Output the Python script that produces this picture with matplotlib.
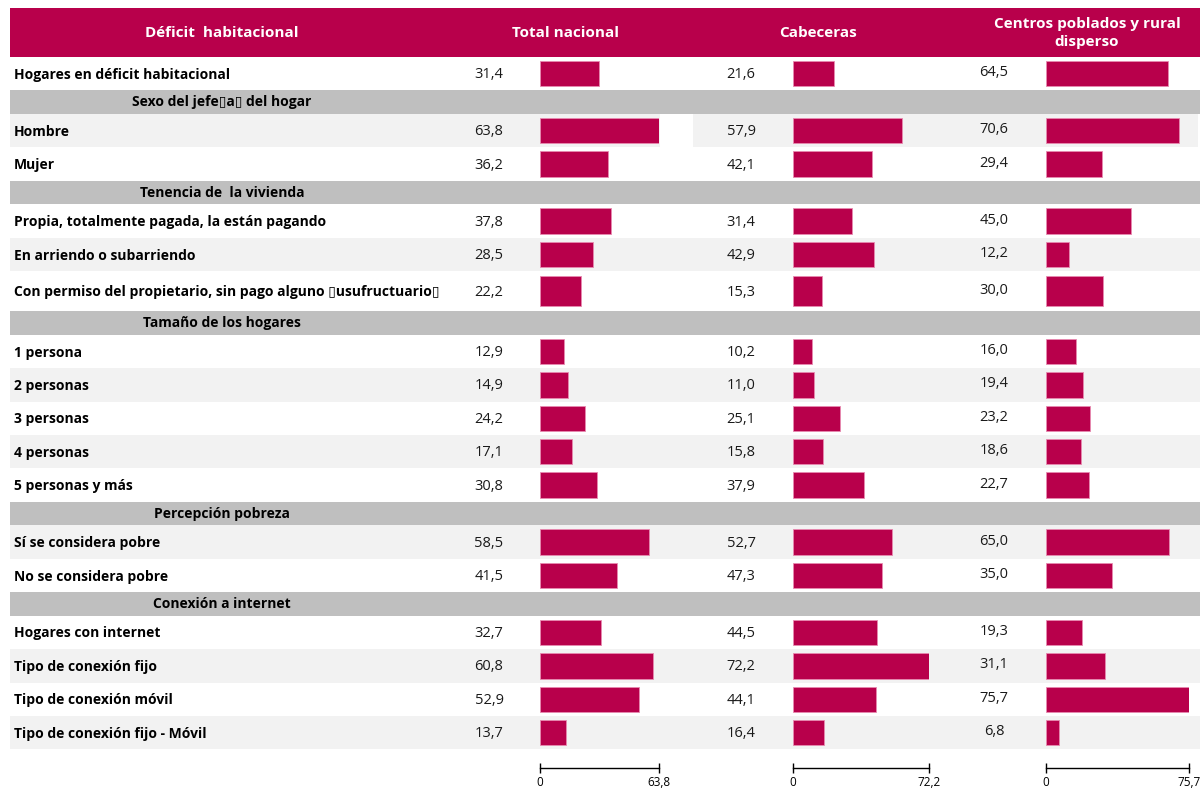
import numpy as np
import matplotlib
matplotlib.use("Agg")
import matplotlib.pyplot as plt

plt.rcParams['font.family'] = ['Open Sans', 'DejaVu Sans']

# ---------------- data ----------------
B = "\u25af"
row_labels = [
    "Hogares en déficit habitacional",
    f"Sexo del jefe{B}a{B} del hogar",
    "Hombre",
    "Mujer",
    "Tenencia de  la vivienda",
    "Propia, totalmente pagada, la están pagando",
    "En arriendo o subarriendo",
    f"Con permiso del propietario, sin pago alguno {B}usufructuario{B}",
    "Tamaño de los hogares",
    "1 persona",
    "2 personas",
    "3 personas",
    "4 personas",
    "5 personas y más",
    "Percepción pobreza",
    "Sí se considera pobre",
    "No se considera pobre",
    "Conexión a internet",
    "Hogares con internet",
    "Tipo de conexión fijo",
    "Tipo de conexión móvil",
    "Tipo de conexión fijo - Móvil",
]
is_section = [False, True, False, False, True, False, False, False, True,
              False, False, False, False, False, True, False, False, True,
              False, False, False, False]
nan = np.nan
total_nacional = [31.4, nan, 63.8, 36.2, nan, 37.8, 28.5, 22.2, nan, 12.9, 14.9,
                  24.2, 17.1, 30.8, nan, 58.5, 41.5, nan, 32.7, 60.8, 52.9, 13.7]
cabeceras = [21.6, nan, 57.9, 42.1, nan, 31.4, 42.9, 15.3, nan, 10.2, 11.0,
             25.1, 15.8, 37.9, nan, 52.7, 47.3, nan, 44.5, 72.2, 44.1, 16.4]
centros = [64.5, nan, 70.6, 29.4, nan, 45.0, 12.2, 30.0, nan, 16.0, 19.4,
           23.2, 18.6, 22.7, nan, 65.0, 35.0, nan, 19.3, 31.1, 75.7, 6.8]
column_titles = ["Déficit  habitacional", "Total nacional", "Cabeceras",
                 "Centros poblados y rural\ndisperso"]
shaded = [False, False, True, False, False, False, True, False, False,
          False, True, False, True, False, False, True, False, False,
          False, True, False, True]

# ---------------- layout ----------------
W, H = 1202, 789
CRIMSON = "#B8004B"
STRIPE = "#F2F2F2"
SECTION = "#BFBFBF"

fig = plt.figure(figsize=(W / 100, H / 100), dpi=100)
ax0 = fig.add_axes([0, 0, 1, 1])
ax0.set_xlim(0, W)
ax0.set_ylim(H, 0)
ax0.axis('off')

heights = []
for i, s in enumerate(is_section):
    if s:
        heights.append(23.6)
    elif i == 7:
        heights.append(40.0)
    else:
        heights.append(33.4)
tops = 57 + np.concatenate([[0], np.cumsum(heights)[:-1]])
centers = tops + np.array(heights) / 2

# header band
ax0.barh(32.5, 1190, left=10, height=49, color=CRIMSON)
hdr_x = [222, 565, 818, 1087]
for t, x in zip(column_titles, hdr_x):
    ax0.text(x, 33, t, ha='center', va='center', color='white',
             fontsize=11, fontweight='bold', linespacing=1.3)

for i, (lab, s) in enumerate(zip(row_labels, is_section)):
    c, h = centers[i], heights[i]
    if s:
        ax0.barh(c, 1190, left=10, height=h, color=SECTION)
        ax0.text(222, c, lab, ha='center', va='center', fontsize=10,
                 fontweight='bold', color='black')
    else:
        if shaded[i]:
            if i == 2:
                ax0.barh(c, 650, left=10, height=h, color=STRIPE)
                ax0.barh(c, 505, left=693, height=h, color=STRIPE)
            else:
                ax0.barh(c, 1190, left=10, height=h, color=STRIPE)
        ax0.text(14, c + 1, lab, ha='left', va='center', fontsize=10,
                 fontweight='bold', color='black')

# bar columns
cols = [
    (total_nacional, 540, 119, 489, 0),
    (cabeceras, 793, 136, 741, 0),
    (centros, 1046, 143, 994, -2),
]
for vals, x0, wpx, vx, dy in cols:
    vals = np.array(vals, dtype=float)
    vmax = np.nanmax(vals)
    ax = fig.add_axes([x0 / W, 0, wpx / W, 1])
    ax.set_xlim(0, vmax)
    ax.set_ylim(H, 0)
    ax.axis('off')
    ax.patch.set_alpha(0)
    mask = ~np.isnan(vals)
    ax.barh(centers[mask], vals[mask], height=np.array(heights)[mask] * 0.76,
            color=CRIMSON, edgecolor="#E88AB0", linewidth=0.6)
    for c, v in zip(centers[mask], vals[mask]):
        ax0.text(vx, c + 1 + dy, f"{v:.1f}".replace('.', ','), ha='center',
                 va='center', fontsize=10.5, color='#1a1a1a')
    # scale axis
    sax = fig.add_axes([x0 / W, (H - 768) / H, wpx / W, 0.0001])
    sax.set_xlim(0, vmax)
    sax.patch.set_alpha(0)
    for sp in ['top', 'left', 'right']:
        sax.spines[sp].set_visible(False)
    sax.spines['bottom'].set_linewidth(1.0)
    sax.set_yticks([])
    sax.set_xticks([0, vmax])
    sax.set_xticklabels(["0", f"{vmax:.1f}".replace('.', ',')])
    sax.tick_params(axis='x', direction='inout', length=7, width=1.0,
                    labelsize=8.5, pad=2)

fig.savefig("out.png", dpi=100)
